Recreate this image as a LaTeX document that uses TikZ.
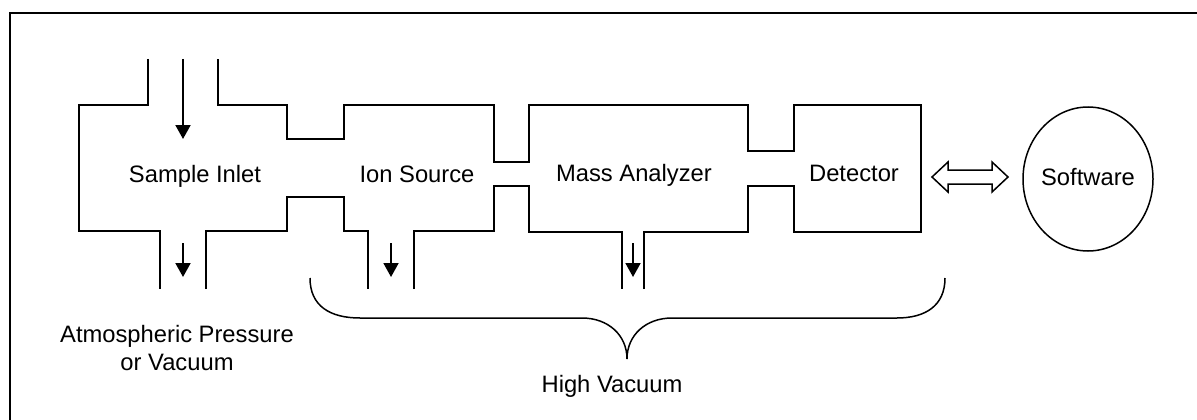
\documentclass[tikz,border=0pt]{standalone}
\usepackage{fontspec}
\setmainfont{Liberation Sans}
\usetikzlibrary{arrows.meta}
\tikzset{
  wall/.style={line width=1.9pt, line join=miter, line cap=butt},
  flow/.style={line width=1.9pt, -{Triangle[length=14pt,width=15pt]}},
  lbl/.style={font=\fontsize{23.75}{28}\selectfont, inner sep=0pt, align=center, anchor=base},
  thin/.style={line width=1.5pt}
}
\begin{document}
\begin{tikzpicture}[x=1pt,y=-1pt]
\useasboundingbox (0,0) rectangle (1197,420);
\clip (0,0) rectangle (1197,420);
\fill[white] (0,0) rectangle (1197,420);
% outer frame (continues beyond the right and bottom edges)
\draw[line width=2.2pt] (10,440) -- (10,13) -- (1220,13);

% chamber outline
\draw[wall] (148,59) -- (148,105) -- (79,105) -- (79,231) -- (160,231) -- (160,289);
\draw[wall] (206,289) -- (206,231) -- (287,231) -- (287,197) -- (344,197) -- (344,231) -- (368,231) -- (368,289);
\draw[wall] (414,289) -- (414,231) -- (494,231) -- (494,186) -- (529,186) -- (529,232) -- (622,232) -- (622,289);
\draw[wall] (644,289) -- (644,232) -- (748,232) -- (748,186) -- (794,186) -- (794,232) -- (921,232)
  -- (921,105) -- (794,105) -- (794,151) -- (748,151) -- (748,105) -- (529,105) -- (529,162)
  -- (494,162) -- (494,105) -- (344,105) -- (344,139) -- (287,139) -- (287,105) -- (218,105) -- (218,59);

% flow arrows
\coordinate (inA) at (183,59);  \coordinate (inB) at (183,139);
\coordinate (p1A) at (183,243); \coordinate (p1B) at (183,277);
\coordinate (p2A) at (391,243); \coordinate (p2B) at (391,277);
\coordinate (p3A) at (633,243); \coordinate (p3B) at (633,277);
\draw[flow] (inA) -- (inB);
\draw[flow] (p1A) -- (p1B);
\draw[flow] (p2A) -- (p2B);
\draw[flow] (p3A) -- (p3B);

% labels
\node[lbl] (inlet) at (195,182) {Sample Inlet};
\node[lbl] (ion) at (417,182) {Ion Source};
\node[lbl] (mass) at (634,181) {Mass Analyzer};
\node[lbl] (det) at (854,181) {Detector};
\node[lbl] (atm) at (177,342) {Atmospheric Pressure};
\node[lbl] (atm2) at (177,370) {or Vacuum};
\node[lbl] (hv) at (612,392) {High Vacuum};

% software
\draw[thin] (1088,179) ellipse [x radius=65, y radius=72];
\node[lbl] (sw) at (1088,185) {Software};

% hollow double arrow
\draw[thin, fill=white, line join=miter] (932,177) -- (948,162) -- (948,170) -- (992,170) -- (992,162)
  -- (1008,177) -- (992,192) -- (992,184) -- (948,184) -- (948,192) -- cycle;

% brace
\coordinate (bl) at (310,278);
\coordinate (bt) at (627,359);
\coordinate (br) at (945,278);
\draw[thin] (bl) .. controls (310,306) and (330,318) .. (360,318) -- (582,318)
  .. controls (608,318) and (627,335) .. (bt)
  .. controls (627,335) and (646,318) .. (672,318) -- (897,318)
  .. controls (925,318) and (945,306) .. (br);
\end{tikzpicture}
\end{document}
